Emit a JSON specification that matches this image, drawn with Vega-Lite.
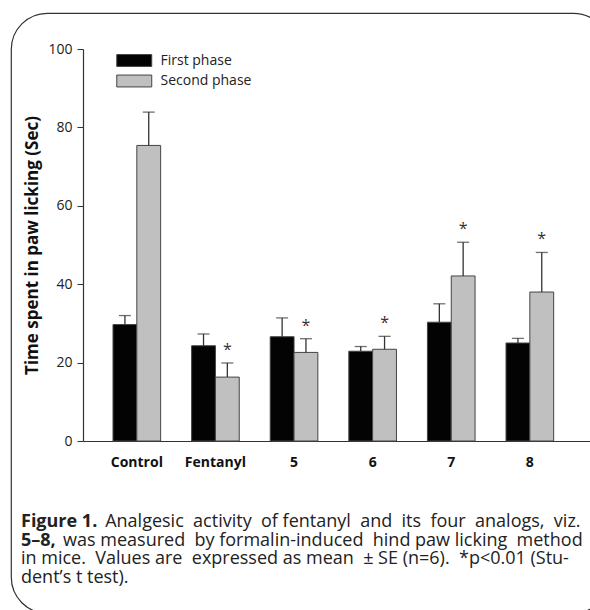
{
  "$schema": "https://vega.github.io/schema/vega-lite/v6.json",
  "autosize": "none",
  "padding": {"left": 11, "top": 13, "right": -19, "bottom": -3},
  "width": 598,
  "height": 600,
  "background": "white",
  "config": {
    "font": "Open Sans",
    "view": {"stroke": "#333333", "strokeWidth": 1.2, "cornerRadius": 36},
    "axis": {"grid": false, "domainColor": "#333333", "tickColor": "#333333", "labelColor": "#222222", "titleColor": "#111111"}
  },
  "title": {
    "text": ["Figure 1.", "5–8,"],
    "subtitle": [
      "\u2060\u00a0\u00a0\u00a0\u00a0\u00a0\u00a0\u00a0\u00a0\u00a0\u00a0\u00a0\u00a0\u00a0\u00a0\u00a0\u00a0\u00a0\u00a0Analgesic \u00a0activity \u00a0of fentanyl \u00a0and \u00a0its \u00a0four \u00a0analogs, \u00a0viz.",
      "\u2060\u00a0\u00a0\u00a0\u00a0\u00a0\u00a0\u00a0\u00a0\u00a0was measured \u00a0by formalin-induced \u00a0hind paw licking \u00a0method",
      "in mice. \u00a0Values are \u00a0expressed as mean \u00a0± SE (n=6). \u00a0*p<0.01 (Stu-",
      "dent’s t test)."
    ],
    "orient": "bottom",
    "anchor": "start",
    "frame": "group",
    "offset": -100,
    "dx": 10,
    "font": "Open Sans",
    "fontSize": 18,
    "fontWeight": "bold",
    "lineHeight": 18.6,
    "color": "#222222",
    "subtitleFont": "Open Sans",
    "subtitleFontSize": 18,
    "subtitleFontWeight": "normal",
    "subtitleLineHeight": 18.6,
    "subtitleColor": "#222222",
    "subtitlePadding": -36.6
  },
  "data": {
    "values": [
      {"group": "Control", "phase": "First phase", "value": 29.7, "err": 32.0, "sig": ""},
      {"group": "Control", "phase": "Second phase", "value": 75.4, "err": 83.9, "sig": ""},
      {"group": "Fentanyl", "phase": "First phase", "value": 24.3, "err": 27.3, "sig": ""},
      {"group": "Fentanyl", "phase": "Second phase", "value": 16.3, "err": 19.9, "sig": "*"},
      {"group": "5", "phase": "First phase", "value": 26.6, "err": 31.4, "sig": ""},
      {"group": "5", "phase": "Second phase", "value": 22.6, "err": 26.1, "sig": "*"},
      {"group": "6", "phase": "First phase", "value": 22.9, "err": 24.1, "sig": ""},
      {"group": "6", "phase": "Second phase", "value": 23.4, "err": 26.7, "sig": "*"},
      {"group": "7", "phase": "First phase", "value": 30.3, "err": 35.0, "sig": ""},
      {"group": "7", "phase": "Second phase", "value": 42.1, "err": 50.7, "sig": "*"},
      {"group": "8", "phase": "First phase", "value": 25.0, "err": 26.2, "sig": ""},
      {"group": "8", "phase": "Second phase", "value": 38.0, "err": 48.1, "sig": "*"}
    ]
  },
  "encoding": {
    "x": {
      "field": "group",
      "type": "nominal",
      "sort": ["Control", "Fentanyl", "5", "6", "7", "8"],
      "scale": {"range": [72, 590], "paddingInner": 0.394, "paddingOuter": 0.492, "align": 0.388},
      "axis": {"title": null, "offset": -172, "ticks": false, "labelAngle": 0, "labelFontWeight": "bold", "labelFontSize": 14, "labelPadding": 14, "labelColor": "#111111", "domainWidth": 1.2}
    },
    "xOffset": {"field": "phase", "type": "nominal", "scale": {"paddingInner": 0, "paddingOuter": 0}}
  },
  "layer": [
    {
      "mark": {"type": "bar", "stroke": "#444444", "strokeWidth": 1},
      "encoding": {
        "y": {
          "field": "value",
          "type": "quantitative",
          "scale": {"domain": [0, 100], "range": [428, 36], "nice": false},
          "axis": {"values": [0, 20, 40, 60, 80, 100], "offset": -72, "tickSize": 6, "labelFontSize": 14, "labelPadding": 5, "domainWidth": 1.2, "title": "Time spent in paw licking (Sec)", "titleFontSize": 17, "titleFontWeight": "bold", "titlePadding": 6}
        },
        "fill": {
          "field": "phase",
          "type": "nominal",
          "scale": {"domain": ["First phase", "Second phase"], "range": ["#030303", "#c0c0c0"]},
          "legend": {
            "title": null,
            "orient": "none",
            "legendX": 113.75,
            "legendY": 38,
            "padding": 0,
            "symbolType": "M-2,-0.68H2V0.68H-2Z",
            "symbolSize": 306,
            "symbolStrokeColor": "#444444",
            "symbolStrokeWidth": 1,
            "symbolOpacity": 1,
            "labelFontSize": 14,
            "labelColor": "#222222",
            "labelOffset": 16.75,
            "rowPadding": 2.5
          }
        }
      }
    },
    {
      "mark": {"type": "rule", "color": "#333333", "strokeWidth": 1.3},
      "encoding": {
        "y": {"field": "value", "type": "quantitative"},
        "y2": {"field": "err"}
      }
    },
    {
      "mark": {"type": "tick", "color": "#333333", "size": 12, "thickness": 1.3},
      "encoding": {
        "y": {"field": "err", "type": "quantitative"}
      }
    },
    {
      "transform": [{"filter": "datum.sig == '*'"}],
      "mark": {"type": "text", "fontSize": 16, "color": "#333333", "baseline": "middle", "dy": -13},
      "encoding": {
        "y": {"field": "err", "type": "quantitative"},
        "text": {"field": "sig"}
      }
    }
  ]
}
